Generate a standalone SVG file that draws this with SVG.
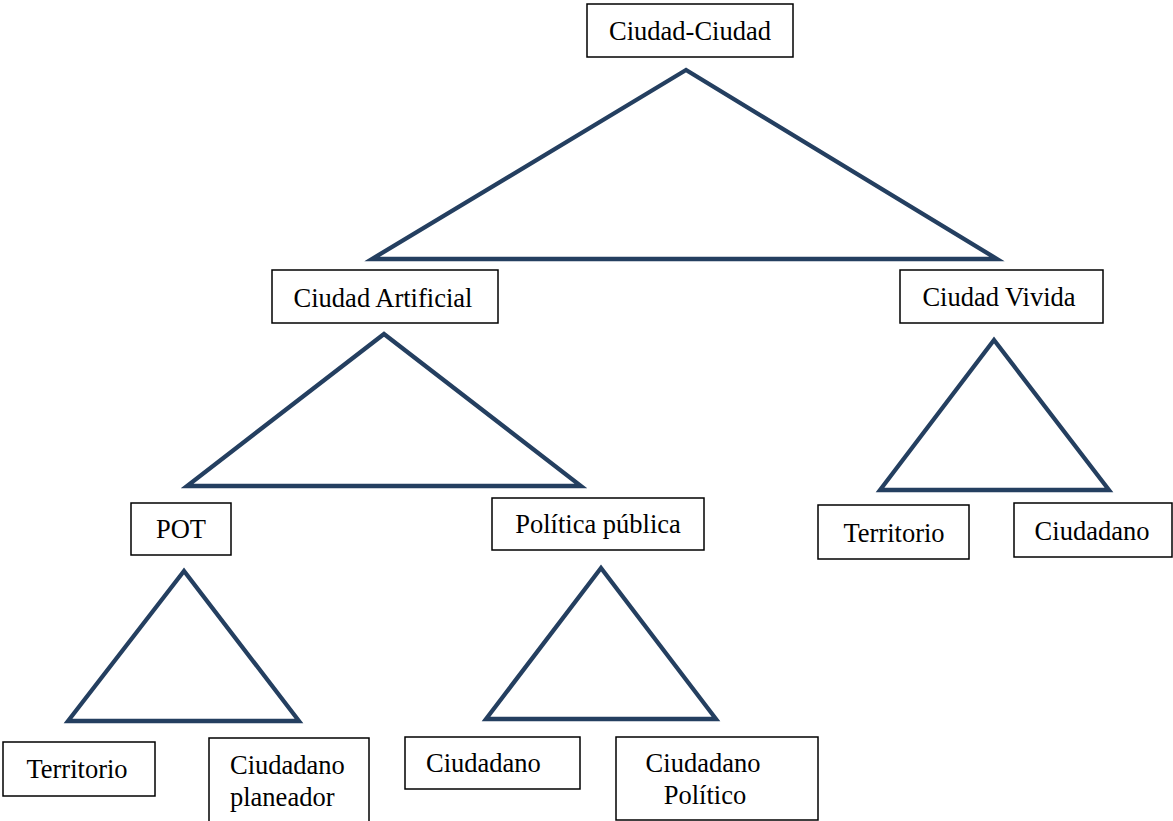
<svg xmlns="http://www.w3.org/2000/svg" width="1173" height="821" viewBox="0 0 1173 821">
<style>
.box{fill:#fff;stroke:#000;stroke-width:1.5}
.t{font-family:"Liberation Serif","Times New Roman",serif;font-size:26.5px;fill:#000}
.m{text-anchor:middle}
.tri{fill:none;stroke:#243F60;stroke-width:4.3;stroke-linejoin:miter}
</style>
<rect width="1173" height="821" fill="#fff"/>
<g id="connectors">
<polygon class="tri" points="686,70 372,259 997,259"/>
<polygon class="tri" points="384,334 187,486 581,486"/>
<polygon class="tri" points="994,340 880,490 1109,490"/>
<polygon class="tri" points="184,571 68,721 299,721"/>
<polygon class="tri" points="601,568 486,719 716,719"/>
</g>
<g id="n-ciudad-ciudad"><rect class="box" x="587" y="4" width="206" height="53"/><text class="t m" x="690" y="40">Ciudad-Ciudad</text></g>
<g id="n-artificial"><rect class="box" x="272" y="270" width="226" height="53"/><text class="t m" x="383" y="307">Ciudad Artificial</text></g>
<g id="n-vivida"><rect class="box" x="900" y="270" width="203" height="53"/><text class="t m" x="999" y="306">Ciudad Vivida</text></g>
<g id="n-pot"><rect class="box" x="131" y="503" width="100" height="52"/><text class="t m" x="181" y="538">POT</text></g>
<g id="n-politica"><rect class="box" x="492" y="498" width="212" height="52"/><text class="t m" x="598" y="533">Política pública</text></g>
<g id="n-territorio-v"><rect class="box" x="818" y="505" width="151" height="54"/><text class="t m" x="894" y="542">Territorio</text></g>
<g id="n-ciudadano-v"><rect class="box" x="1014" y="503" width="158" height="54"/><text class="t m" x="1092" y="540">Ciudadano</text></g>
<g id="n-territorio-p"><rect class="box" x="3" y="742" width="152" height="54"/><text class="t m" x="77" y="778">Territorio</text></g>
<g id="n-planeador"><rect class="box" x="209" y="738" width="160" height="90"/><text class="t" x="230" y="774">Ciudadano</text><text class="t" x="230" y="806">planeador</text></g>
<g id="n-ciudadano-pp"><rect class="box" x="405" y="737" width="175" height="52"/><text class="t" x="426" y="772">Ciudadano</text></g>
<g id="n-politico"><rect class="box" x="616" y="737" width="202" height="83"/><text class="t m" x="703" y="772">Ciudadano</text><text class="t m" x="705" y="804">Político</text></g>
</svg>
